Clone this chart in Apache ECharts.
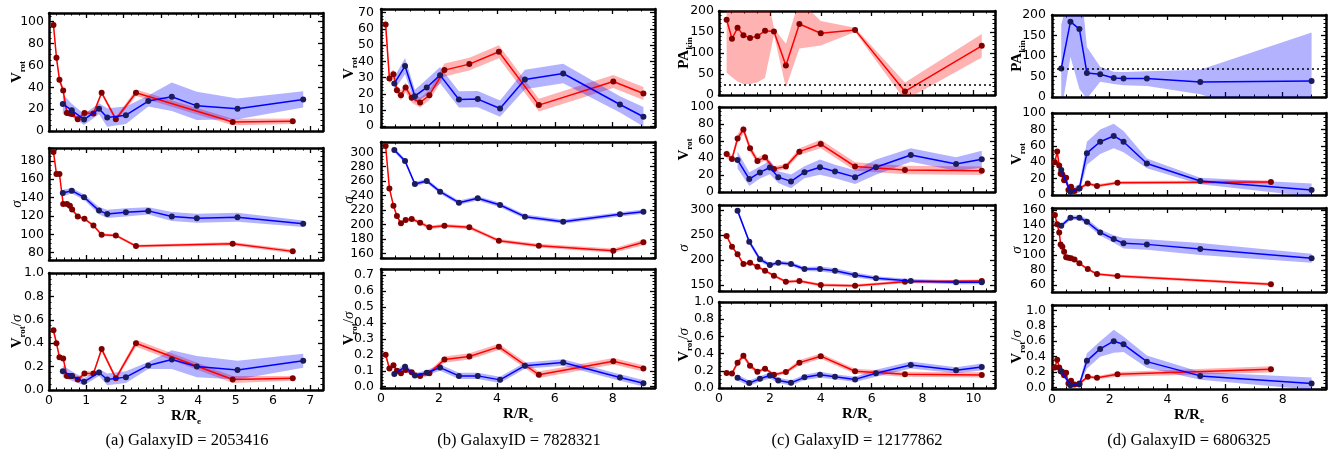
<!DOCTYPE html>
<html><head><meta charset="utf-8">
<script src="https://cdn.jsdelivr.net/npm/echarts@6/dist/echarts.min.js"></script>
<style>html,body{margin:0;padding:0;background:#fff}#c{width:1339px;height:465px}</style>
</head><body><div id="c"></div>
<script>
// ---------------- DATA ----------------
// Galaxy a (GalaxyID = 2053416)
const aRedR = [0.12, 0.2, 0.28, 0.38, 0.48, 0.56, 0.62, 0.77, 0.95, 1.19, 1.41, 1.79, 2.33, 4.92, 6.53];
const aRedVrot = [97, 67, 47, 37, 16.5, 16, 15.5, 10.8, 16.5, 16, 35, 10.8, 35, 8.3, 8.9];
const aRedVrotErr = [5, 3, 3, 3, 2, 2, 2, 2, 2, 2, 2, 2, 3, 3, 2.5];
const aRedSig = [189.7, 165.6, 165.6, 133, 133, 131, 127, 119.4, 116.8, 109.6, 99.5, 98.8, 87.2, 89.7, 81.4];
const aRedSigErr = [2, 1.5, 1.5, 1.5, 1.5, 1.5, 1.5, 1.5, 1.5, 1.5, 1.5, 1.5, 1.5, 2, 2];
const aRedRatio = [0.51, 0.40, 0.28, 0.27, 0.12, 0.12, 0.12, 0.09, 0.14, 0.14, 0.35, 0.10, 0.40, 0.09, 0.10];
const aRedRatioErr = [0.04, 0.02, 0.015, 0.015, 0.02, 0.02, 0.02, 0.02, 0.02, 0.02, 0.02, 0.02, 0.03, 0.03, 0.02];
const aBlueR = [0.37, 0.61, 0.94, 1.34, 1.56, 2.06, 2.66, 3.29, 3.96, 5.05, 6.81];
const aBlueVrot = [24.6, 19, 10.5, 20.3, 12.3, 14.5, 27.4, 31.4, 23, 20.3, 28.9];
const aBlueVrotErr = [9, 6, 5, 5, 8.5, 8, 5, 13, 13, 9.5, 7.5];
const aBlueSig = [145, 147.5, 140.3, 125.8, 122.2, 124, 125.5, 119.4, 117.5, 118.6, 111.4];
const aBlueSigErr = [3.5, 3, 3, 4, 4.5, 4.5, 4, 5, 5, 5, 3.5];
const aBlueRatio = [0.16, 0.12, 0.07, 0.15, 0.09, 0.11, 0.21, 0.26, 0.20, 0.17, 0.25];
const aBlueRatioErr = [0.05, 0.04, 0.03, 0.03, 0.05, 0.05, 0.03, 0.08, 0.09, 0.08, 0.06];

// Galaxy b (GalaxyID = 7828321)
const bRedR = [0.16, 0.29, 0.43, 0.55, 0.69, 0.85, 1.06, 1.35, 1.67, 2.19, 3.05, 4.07, 5.45, 8.02, 9.06];
const bRedVrot = [62.8, 29.4, 32.1, 22.2, 19.1, 23.9, 17.5, 14.6, 19.1, 34.6, 38.3, 45.9, 13, 27.6, 20.2];
const bRedVrotErr = [7, 3, 3, 3, 3, 3, 3, 3, 3, 4, 4, 4, 4, 4, 4];
const bRedSig = [308.8, 250, 226, 211.7, 201.6, 206.2, 207.6, 202.5, 196, 198.3, 196, 177.5, 170.6, 163.7, 175.2];
const bRedSigErr = [2.5, 2.5, 2.5, 2.5, 2.5, 2.5, 2.5, 2.5, 2.5, 2.5, 2.5, 2.5, 2.5, 3, 4];
const bRedRatio = [0.2, 0.115, 0.135, 0.1, 0.085, 0.105, 0.09, 0.067, 0.085, 0.17, 0.19, 0.25, 0.075, 0.16, 0.115];
const bRedRatioErr = [0.02, 0.015, 0.015, 0.015, 0.015, 0.015, 0.015, 0.015, 0.015, 0.02, 0.02, 0.02, 0.02, 0.02, 0.02];
const bBlueR = [0.46, 0.83, 1.17, 1.58, 2.04, 2.69, 3.34, 4.11, 4.97, 6.29, 8.25, 9.06];
const bBlueVrot = [26.4, 37.1, 18.5, 23.9, 31.5, 16.5, 16.7, 10.9, 28.8, 32.5, 13.4, 5.8];
const bBlueVrotErr = [4, 5, 4, 5, 5, 5, 5, 5, 6, 6, 5, 6];
const bBlueSig = [303.2, 288, 256, 260.3, 245.5, 230.2, 236.2, 227, 210.8, 203.9, 214, 217.7];
const bBlueSigErr = [3, 3, 3, 3, 3, 3, 3, 3, 3, 3, 3, 3];
const bBlueRatio = [0.08, 0.125, 0.07, 0.088, 0.12, 0.068, 0.068, 0.043, 0.132, 0.152, 0.058, 0.022];
const bBlueRatioErr = [0.015, 0.02, 0.015, 0.015, 0.02, 0.02, 0.02, 0.02, 0.02, 0.02, 0.02, 0.02];

// Galaxy c (GalaxyID = 12177862)
const cRedR = [0.3, 0.51, 0.73, 0.96, 1.22, 1.51, 1.81, 2.16, 2.63, 3.16, 4.0, 5.35, 7.31, 10.33];
const cRedPA = [179, 134, 160, 142, 136, 140, 153, 151, 70, 169, 147, 155, 8.5, 117];
const cRedPAErr = [126, 92, 128, 116, 110, 110, 112, 8, 52, 58, 29, 5, 21, 28];
const cRedVrot = [44.7, 38.9, 63, 73.5, 51.4, 36.6, 40.9, 27.2, 30, 47.5, 56.4, 30, 26, 24.9];
const cRedVrotErr = [5, 4, 5, 5, 4, 4, 4, 3, 3, 4, 5, 5, 5, 5];
const cRedSig = [248, 226.7, 211.3, 192, 194.7, 186.7, 178.7, 168.7, 156.7, 158, 150, 148.7, 156.7, 158];
const cRedSigErr = [3, 3, 3, 3, 3, 3, 3, 3, 3, 3, 3, 3, 3, 3];
const cRedRatio = [0.175, 0.17, 0.295, 0.375, 0.26, 0.19, 0.225, 0.155, 0.185, 0.295, 0.37, 0.195, 0.16, 0.152];
const cRedRatioErr = [0.02, 0.02, 0.03, 0.03, 0.03, 0.02, 0.02, 0.02, 0.02, 0.03, 0.03, 0.03, 0.03, 0.03];
const cBlueR = [0.73, 1.19, 1.61, 2.0, 2.33, 2.83, 3.36, 3.97, 4.56, 5.35, 6.17, 7.54, 9.32, 10.33];
const cBlueVrot = [37.7, 15.2, 23, 28.8, 17.5, 12.5, 23.3, 29.2, 24.1, 17.5, 29.2, 43.6, 33, 38.5];
const cBlueVrotErr = [10, 8, 7, 8, 7, 8, 7, 9, 8, 8, 9, 8, 8, 10];
const cBlueSig = [298.7, 236.7, 201.3, 190, 194.7, 192, 182, 182, 178.7, 170, 163.3, 158, 155.3, 155.3];
const cBlueSigErr = [5, 5, 5, 4, 4, 4, 4, 5, 5, 5, 4, 4, 4, 4];
const cBlueRatio = [0.12, 0.057, 0.107, 0.146, 0.088, 0.06, 0.124, 0.155, 0.131, 0.1, 0.172, 0.268, 0.206, 0.244];
const cBlueRatioErr = [0.035, 0.03, 0.03, 0.035, 0.03, 0.03, 0.03, 0.035, 0.03, 0.03, 0.04, 0.04, 0.035, 0.04];
const cPAref = 24;

// Galaxy d (GalaxyID = 6806325)
const dRedR = [0.1, 0.18, 0.25, 0.3, 0.36, 0.42, 0.49, 0.57, 0.66, 0.78, 0.95, 1.24, 1.56, 2.27, 7.59];
const dRedVrot = [40, 53, 36, 26, 25, 18, 21, 6, 10, 5, 8, 14, 11, 15, 16];
const dRedVrotErr = [3, 3, 2, 2, 2, 2, 2, 2, 2, 2, 2, 2, 2, 2, 2];
const dRedSig = [153.3, 141, 130.2, 114.2, 111.1, 104.4, 96.9, 96.4, 95.6, 94.2, 88.9, 81.3, 74.7, 72, 60.9];
const dRedSigErr = [1.5, 1.5, 1.5, 1.5, 1.5, 1.5, 1.5, 1.5, 1.5, 1.5, 1.5, 1.5, 1.5, 2, 2];
const dRedRatio = [0.26, 0.36, 0.26, 0.21, 0.2, 0.16, 0.19, 0.05, 0.087, 0.04, 0.05, 0.14, 0.126, 0.17, 0.235];
const dRedRatioErr = [0.02, 0.02, 0.02, 0.02, 0.02, 0.02, 0.02, 0.02, 0.02, 0.02, 0.02, 0.02, 0.02, 0.03, 0.04];
const dBlueR = [0.32, 0.64, 0.95, 1.21, 1.67, 2.14, 2.48, 3.29, 5.14, 9.0];
const dBluePA = [69.4, 183.7, 165.7, 58.8, 55.5, 46.5, 44.9, 44.9, 36.7, 39.2];
const dBluePAErr = [106, 86, 146, 63, 18, 15, 16, 18, 30, 118];
const dBlueVrot = [30.6, 4, 8.2, 51, 65, 72, 65, 38.5, 17, 6];
const dBlueVrotErr = [5, 4, 5, 14, 15, 15, 13, 6, 4, 8];
const dBlueSig = [139, 149.8, 149.8, 144.4, 130.2, 121.3, 115.6, 114.2, 108, 95.6];
const dBlueSigErr = [3, 3, 3, 4, 4, 5, 7, 7, 8, 6];
const dBlueRatio = [0.21, 0.03, 0.04, 0.345, 0.5, 0.6, 0.56, 0.335, 0.15, 0.05];
const dBlueRatioErr = [0.03, 0.03, 0.03, 0.1, 0.1, 0.15, 0.1, 0.08, 0.05, 0.08];
const dPAref = 69.4;

const captions = ['(a) GalaxyID = 2053416', '(b) GalaxyID = 7828321', '(c) GalaxyID = 12177862', '(d) GalaxyID = 6806325'];

// ---------------- LAYOUT / STYLE ----------------
const RED = {line: '#ff0000', mark: '#800000', band: 'rgba(255,0,0,0.3)'};
const BLUE = {line: '#0000ff', mark: '#1c1c5c', band: 'rgba(0,0,255,0.3)'};
const NAMES = {
  vrot: '{b|V}{s|rot}',
  sig: '{i|σ}',
  ratio: '{b|V}{s|rot}{n|/}{i|σ}',
  pa: '{b|PA}{s|kin}'
};
const cols = {
  a: {x0: 49, x1: 323, xr: [0, 7.34], xi: 1, gap: 22, lm: 5, cap: 187},
  b: {x0: 381, x1: 655, xr: [0, 9.46], xi: 2, gap: 22, lm: 7, cap: 519},
  c: {x0: 719, x1: 995, xr: [0, 10.85], xi: 2, gap: 25, lm: 5, cap: 857},
  d: {x0: 1052, x1: 1326, xr: [0, 9.5], xi: 2, gap: 25, lm: 6, cap: 1189}
};
function S(x, y, e, c) { return {x, y, e, c}; }
const panels = [
  {col: 'a', t: 13, b: 131, yr: [0, 108], yi: 20, name: 'vrot', s: [S(aRedR, aRedVrot, aRedVrotErr, RED), S(aBlueR, aBlueVrot, aBlueVrotErr, BLUE)]},
  {col: 'a', t: 148, b: 260, yr: [72, 194], yi: 20, name: 'sig', s: [S(aRedR, aRedSig, aRedSigErr, RED), S(aBlueR, aBlueSig, aBlueSigErr, BLUE)]},
  {col: 'a', t: 273, b: 390, yr: [0, 1.0], yi: 0.2, name: 'ratio', bottom: true, s: [S(aRedR, aRedRatio, aRedRatioErr, RED), S(aBlueR, aBlueRatio, aBlueRatioErr, BLUE)]},
  {col: 'b', t: 9, b: 127, yr: [-0.5, 72.3], yi: 10, name: 'vrot', s: [S(bRedR, bRedVrot, bRedVrotErr, RED), S(bBlueR, bBlueVrot, bBlueVrotErr, BLUE)]},
  {col: 'b', t: 142, b: 258, yr: [153.5, 314.3], yi: 20, name: 'sig', s: [S(bRedR, bRedSig, bRedSigErr, RED), S(bBlueR, bBlueSig, bBlueSigErr, BLUE)]},
  {col: 'b', t: 269, b: 388, yr: [-0.008, 0.738], yi: 0.1, name: 'ratio', bottom: true, s: [S(bRedR, bRedRatio, bRedRatioErr, RED), S(bBlueR, bBlueRatio, bBlueRatioErr, BLUE)]},
  {col: 'c', t: 11, b: 95, yr: [0, 200], yi: 50, name: 'pa', ref: cPAref, s: [S(cRedR, cRedPA, cRedPAErr, RED)]},
  {col: 'c', t: 107, b: 192, yr: [0, 100], yi: 20, name: 'vrot', s: [S(cRedR, cRedVrot, cRedVrotErr, RED), S(cBlueR, cBlueVrot, cBlueVrotErr, BLUE)]},
  {col: 'c', t: 205, b: 291, yr: [138, 310], yi: 50, name: 'sig', s: [S(cRedR, cRedSig, cRedSigErr, RED), S(cBlueR, cBlueSig, cBlueSigErr, BLUE)]},
  {col: 'c', t: 302, b: 388, yr: [0, 1.0], yi: 0.2, name: 'ratio', bottom: true, s: [S(cRedR, cRedRatio, cRedRatioErr, RED), S(cBlueR, cBlueRatio, cBlueRatioErr, BLUE)]},
  {col: 'd', t: 15, b: 97, yr: [0, 200], yi: 50, name: 'pa', ref: dPAref, s: [S(dBlueR, dBluePA, dBluePAErr, BLUE)]},
  {col: 'd', t: 113, b: 195, yr: [0, 100], yi: 20, name: 'vrot', s: [S(dRedR, dRedVrot, dRedVrotErr, RED), S(dBlueR, dBlueVrot, dBlueVrotErr, BLUE)]},
  {col: 'd', t: 208, b: 292, yr: [50.7, 162.7], yi: 20, name: 'sig', s: [S(dRedR, dRedSig, dRedSigErr, RED), S(dBlueR, dBlueSig, dBlueSigErr, BLUE)]},
  {col: 'd', t: 305, b: 389, yr: [-0.02, 1.07], yi: 0.2, name: 'ratio', bottom: true, s: [S(dRedR, dRedRatio, dRedRatioErr, RED), S(dBlueR, dBlueRatio, dBlueRatioErr, BLUE)]}
];

const serif = "'Liberation Serif', 'DejaVu Serif', serif";
const rich = {
  b: {fontFamily: serif, fontWeight: 'bold', fontSize: 15, lineHeight: 20, verticalAlign: 'middle', color: '#000'},
  s: {fontFamily: serif, fontWeight: 'bold', fontSize: 9, lineHeight: 20, verticalAlign: 'bottom', color: '#000'},
  n: {fontFamily: serif, fontSize: 15, lineHeight: 20, verticalAlign: 'middle', color: '#000'},
  i: {fontFamily: serif, fontStyle: 'italic', fontSize: 15, lineHeight: 20, verticalAlign: 'middle', color: '#000'}
};
function minorN(iv) { const m = iv / Math.pow(10, Math.floor(Math.log10(iv) + 1e-9)); return Math.round(m) === 2 ? 4 : 5; }
function fmt(iv) {
  const dec = iv < 1 ? 1 : 0;
  return v => { const r = v / iv; return Math.abs(r - Math.round(r)) < 1e-6 ? v.toFixed(dec) : ''; };
}
function axisBase(gi, range, iv) {
  return {
    type: 'value', gridIndex: gi, min: range[0], max: range[1], minInterval: iv, maxInterval: iv,
    splitLine: {show: false},
    axisLine: {show: true, onZero: false, lineStyle: {color: '#000', width: 2.5}},
    axisTick: {show: true, inside: true, length: 5, lineStyle: {color: '#000', width: 1.3}},
    minorTick: {show: true, splitNumber: minorN(iv), length: 2.5, lineStyle: {color: '#000', width: 1}},
    nameMoveOverlap: false
  };
}
function labelStyle(m) { return {fontFamily: "'DejaVu Sans', sans-serif", fontSize: 12.5, color: '#000', margin: m}; }

const grid = [], xAxis = [], yAxis = [], series = [];
panels.forEach((p, gi) => {
  const C = cols[p.col];
  grid.push({left: C.x0, top: p.t, width: C.x1 - C.x0, height: p.b - p.t, outerBoundsMode: 'none', containLabel: false});
  xAxis.push(Object.assign(axisBase(gi, C.xr, C.xi), {
    position: 'bottom',
    axisLabel: Object.assign({show: !!p.bottom, formatter: fmt(C.xi)}, labelStyle(4)),
    name: p.bottom ? '{b|R/R}{s|e}' : '', nameLocation: 'middle', nameGap: 16,
    nameTextStyle: {rich: rich}
  }));
  xAxis.push(Object.assign(axisBase(gi, C.xr, C.xi), {position: 'top', axisLabel: {show: false}}));
  yAxis.push(Object.assign(axisBase(gi, p.yr, p.yi), {
    position: 'left',
    axisLabel: Object.assign({show: true, formatter: fmt(p.yi)}, labelStyle(C.lm)),
    name: NAMES[p.name], nameLocation: 'middle', nameGap: C.gap, nameRotate: 90,
    nameTextStyle: {rich: rich}
  }));
  yAxis.push(Object.assign(axisBase(gi, p.yr, p.yi), {position: 'right', axisLabel: {show: false}}));
  const xi = 2 * gi, yi = 2 * gi;
  p.s.forEach((s, k) => {
    series.push({
      type: 'custom', xAxisIndex: xi, yAxisIndex: yi, clip: true, silent: true, z: 1,
      data: s.x.map((x, j) => [x, s.y[j]]),
      encode: {x: 0, y: 1},
      renderItem: (params, api) => {
        if (params.dataIndex !== 0) return null;
        const up = s.x.map((x, j) => api.coord([x, s.y[j] + s.e[j]]));
        const dn = s.x.map((x, j) => api.coord([x, s.y[j] - s.e[j]])).reverse();
        return {type: 'polygon', shape: {points: up.concat(dn)}, style: {fill: s.c.band}};
      }
    });
    const ser = {
      type: 'line', xAxisIndex: xi, yAxisIndex: yi, z: 3 + k,
      data: s.x.map((x, j) => [x, s.y[j]]),
      symbol: 'circle', symbolSize: 6, showAllSymbol: true,
      lineStyle: {color: s.c.line, width: 1.5},
      itemStyle: {color: s.c.mark, borderWidth: 0},
      emphasis: {disabled: true}
    };
    if (p.ref != null && k === 0) {
      ser.markLine = {silent: true, symbol: 'none', label: {show: false},
        lineStyle: {color: '#000', type: [2, 3], width: 1.5}, data: [{yAxis: p.ref}]};
    }
    series.push(ser);
  });
});

const graphic = captions.map((t, k) => ({
  type: 'text', x: [cols.a.cap, cols.b.cap, cols.c.cap, cols.d.cap][k], y: 441,
  style: {text: t, font: "16.5px 'Liberation Serif', serif", fill: '#000', textAlign: 'center', textVerticalAlign: 'middle'}
}));

const chart = echarts.init(document.getElementById('c'), null, {renderer: 'canvas'});
chart.setOption({animation: false, backgroundColor: '#fff', grid, xAxis, yAxis, series, graphic});
</script>
</body></html>
